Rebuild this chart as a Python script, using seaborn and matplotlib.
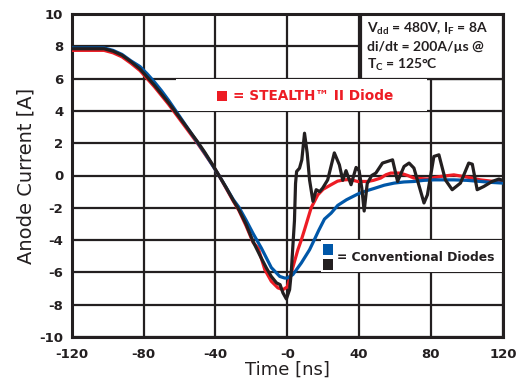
import numpy as np
import pandas as pd
import matplotlib
matplotlib.use("Agg")
import matplotlib.pyplot as plt
import seaborn as sns
from matplotlib.patches import Rectangle

# ---- data ----
t_black = [-120, -110, -102, -97, -92, -87, -82, -78, -74, -70, -66, -62, -58, -54, -50, -46, -42, -38,
           -34, -30, -27, -23, -19, -15, -11.6, -8.9, -6, -4, -2.4, -0.5, 1.3, 2.2, 3.1, 4.0, 4.6, 5.2,
           6.8, 8.1, 9.6, 11.1, 12.4, 14.3, 16.1, 18, 19.7, 22.5, 26.2, 29, 30.9, 32.7, 35.5, 38.3, 40,
           41.5, 42.8, 44.5, 47, 49.3, 53, 55.8, 58.6, 61.4, 65, 67.8, 70.5, 73, 76.1, 78, 81.6, 84.4,
           88, 91.8, 96.4, 101, 103, 105.7, 109.4, 114, 117.8, 120]
i_black = [7.85, 7.85, 7.85, 7.7, 7.45, 7.05, 6.6, 6.1, 5.6, 5.05, 4.5, 3.9, 3.3, 2.7, 2.1, 1.45, 0.75, 0.0,
           -0.75, -1.55, -2.1, -3.0, -4.1, -5.0, -5.73, -6.25, -6.65, -6.76, -7.27, -7.65, -7.07, -6.04, -4.4, -2.8, -0.5, 0.25,
           0.45, 0.97, 2.62, 1.38, -0.27, -1.6, -0.88, -1.0, -0.78, -0.27, 1.4, 0.66, -0.3, 0.3, -0.57, 0.5, 0.3,
           -0.8, -2.2, -0.5, 0.0, 0.15, 0.77, 0.87, 0.97, -0.37, 0.56, 0.77, 0.46, -0.5, -1.7, -1.2, 1.18, 1.28,
           -0.27, -0.88, -0.47, 0.77, 0.7, -0.88, -0.68, -0.37, -0.22, -0.3]

t_red = [-120, -102, -97, -92, -87, -82, -78, -74, -70, -66, -62, -58, -54, -50, -46, -42, -38, -34, -30,
         -27, -23, -19, -16.2, -12.5, -8.9, -5.2, -2.4, 0, 2.2, 5.9, 7.8, 9.6, 13.3, 17, 20, 24.4, 28, 31.7,
         35, 39.2, 44.8, 48, 52, 55, 57.6, 63, 67, 70.5, 78, 85.3, 92.7, 100, 107.5, 115, 120]
i_red = [7.75, 7.75, 7.6, 7.35, 6.95, 6.5, 6.0, 5.5, 4.95, 4.4, 3.8, 3.2, 2.6, 2.0, 1.35, 0.7, 0.0, -0.8, -1.6,
         -2.15, -3.1, -4.15, -4.5, -5.83, -6.55, -6.96, -7.07, -6.9, -6.04, -4.6, -4.0, -3.36, -2.0, -1.2, -0.85, -0.57, -0.35, -0.27,
         -0.25, -0.37, -0.37, -0.3, -0.16, 0.05, 0.15, 0.15, 0.0, -0.16, -0.22, -0.06, 0.04, -0.1, -0.27, -0.37, -0.35]

t_blue = [-120, -102, -97, -92, -87, -82, -78, -74, -70, -66, -62, -58, -54, -50, -46, -42, -38, -34, -30,
          -27, -23, -19, -14.4, -8.9, -4.2, -1.5, 0, 3.1, 7.8, 12.4, 15.1, 17.5, 20.7, 24.4, 28.1, 33, 39.2,
          44, 48.4, 54, 59.5, 65, 70.5, 76, 81.6, 88, 92.7, 100, 107.5, 114, 120]
i_blue = [7.9, 7.9, 7.75, 7.5, 7.1, 6.75, 6.3, 5.8, 5.25, 4.65, 4.0, 3.35, 2.7, 2.05, 1.4, 0.7, 0.0, -0.75, -1.5,
          -1.95, -2.75, -3.6, -4.5, -5.7, -6.25, -6.35, -6.35, -6.14, -5.42, -4.6, -3.97, -3.4, -2.7, -2.33, -1.85, -1.5, -1.15,
          -0.95, -0.8, -0.6, -0.47, -0.4, -0.37, -0.3, -0.27, -0.27, -0.27, -0.3, -0.37, -0.43, -0.47]

x_major = [-120, -80, -40, 0, 40, 80, 120]
x_labels = ["-120", "-80", "-40", "-0", "40", "80", "120"]
x_minor = [-100, -60, -20, 20, 60, 100]
y_major = list(range(-10, 11, 2))
y_labels = [str(v) for v in y_major]
y_minor = list(range(-9, 10, 2))

RED = "#ed1c24"
BLUE = "#0057a8"
BLACK = "#231f20"

sns.set_style("white")
plt.rcParams["font.family"] = ["DejaVu Sans"]
plt.rcParams["axes.unicode_minus"] = False
plt.rcParams["mathtext.fontset"] = "custom"
plt.rcParams["mathtext.bf"] = "Lato:bold"
plt.rcParams["mathtext.rm"] = "Lato:bold"
plt.rcParams["mathtext.default"] = "bf"

fig = plt.figure(figsize=(5.31, 3.90), dpi=100)
ax = fig.add_axes([0.135, 0.136, 0.812, 0.828])

lw = 2.3
sns.lineplot(x=t_red, y=i_red, ax=ax, color=RED, lw=lw, sort=False, zorder=4)
sns.lineplot(x=t_blue, y=i_blue, ax=ax, color=BLUE, lw=lw, sort=False, zorder=5)
sns.lineplot(x=t_black, y=i_black, ax=ax, color=BLACK, lw=lw, sort=False, zorder=6)

ax.set_xlim(-120, 120)
ax.set_ylim(-10, 10)
ax.set_xticks(x_major)
ax.set_xticklabels(x_labels)
ax.set_xticks(x_minor, minor=True)
ax.set_yticks(y_major)
ax.set_yticklabels(y_labels)
ax.set_yticks(y_minor, minor=True)
ax.grid(True, which="major", color=BLACK, lw=1.6, zorder=1)
ax.set_axisbelow(True)
for s in ax.spines.values():
    s.set_color(BLACK)
    s.set_linewidth(2.2)
    s.set_visible(True)
ax.tick_params(which="both", direction="out", color=BLACK, width=1.8)
ax.tick_params(which="major", length=4, pad=2, labelsize=9.5, labelcolor=BLACK)
ax.tick_params(axis="x", which="major", pad=4)
ax.tick_params(which="minor", length=4)
for lab in ax.get_xticklabels() + ax.get_yticklabels():
    lab.set_fontweight("bold")

ax.set_xlabel("Time [ns]", fontsize=13, color=BLACK, labelpad=0)
ax.set_ylabel("Anode Current [A]", fontsize=14, color=BLACK, labelpad=3)

# white boxes behind annotations
ax.add_patch(Rectangle((41, 6.0), 79, 4.0, facecolor="white", edgecolor=BLACK, lw=1.6, zorder=2))
ax.add_patch(Rectangle((-62, 4.0), 140, 2.0, facecolor="white", edgecolor="none", zorder=2))
ax.add_patch(Rectangle((19, -6.0), 101, 2.0, facecolor="white", edgecolor="none", zorder=2))

# annotation text
afont = dict(family=["Lato", "DejaVu Sans"], fontsize=10, fontweight="bold", color=BLACK,
             va="center", ha="left", zorder=7)
ax.text(44.5, 9.05, r"V$_{dd}$ = 480V, I$_{F}$ = 8A", **afont)
ax.text(44.5, 7.95, "di/dt = 200A/µs @", **afont)
ax.text(44.5, 6.85, r"T$_{C}$ = 125°C", **afont)

# legend-like markers
ax.add_patch(Rectangle((-39.3, 4.6), 5.6, 0.65, facecolor=RED, edgecolor="none", zorder=7))
ax.text(-30, 4.95, "= STEALTH™ II Diode", fontsize=9.8, fontweight="bold", color=RED,
        va="center", ha="left", zorder=7)
ax.add_patch(Rectangle((19.7, -4.9), 5.8, 0.65, facecolor=BLUE, edgecolor="none", zorder=7))
ax.add_patch(Rectangle((19.7, -5.85), 5.8, 0.65, facecolor=BLACK, edgecolor="none", zorder=7))
ax.text(27.5, -5.07, "= Conventional Diodes", fontsize=8.9, fontweight="bold", color=BLACK,
        va="center", ha="left", zorder=7)

fig.savefig("out.png", dpi=100)
